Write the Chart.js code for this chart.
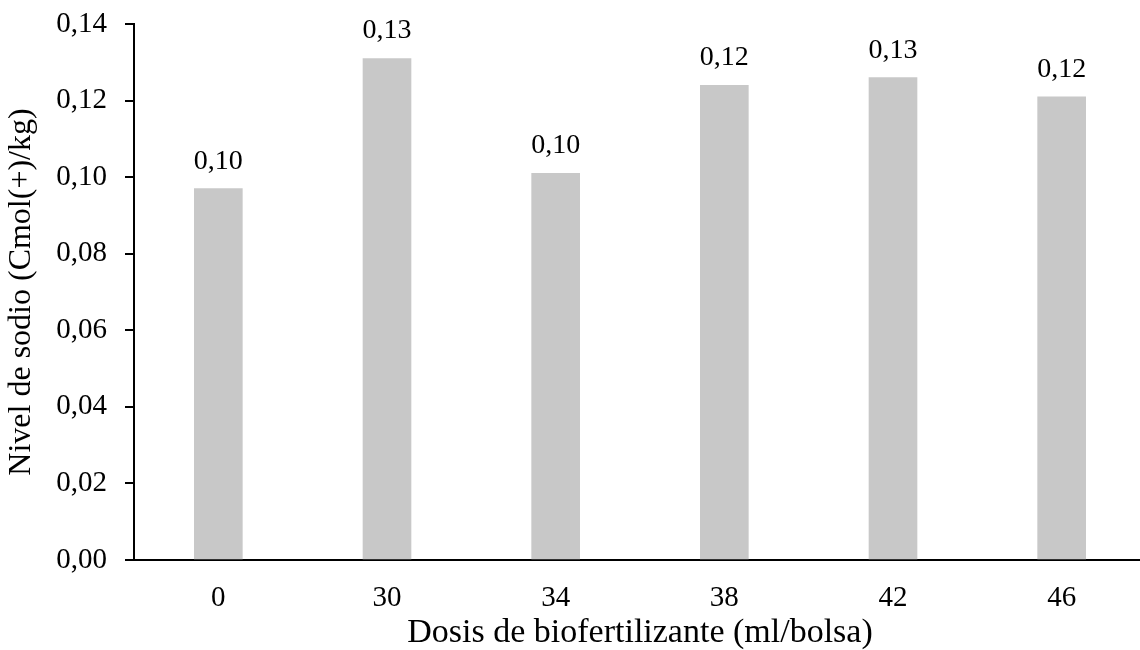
<!DOCTYPE html>
<html lang="es">
<head>
    <meta charset="UTF-8">
    <title>Nivel de sodio</title>
    <style>
        body { margin: 0; overflow: hidden; background: #fff; }
    </style>
</head>
<body>
    <div style="width: 1146px; height: 650px;">
        <canvas id="myChart"></canvas>
    </div>

    <script src="https://cdn.jsdelivr.net/npm/chart.js"></script>
    <script>
        // dosis de biofertilizante (ml/bolsa)
        let v_labels = ['0', '30', '34', '38', '42', '46'];
        // nivel de sodio (Cmol(+)/kg)
        let v_data = [0.097, 0.131, 0.101, 0.124, 0.126, 0.121];

        const ctx = document.querySelector("#myChart");
        const v_font = 'Liberation Serif';

        function f_coma(v) {
            return v.toFixed(2).replace('.', ',');
        }

        // etiquetas sobre cada barra
        const p_valores = {
            id: 'valores',
            afterDatasetsDraw(chart) {
                let c = chart.ctx;
                let meta = chart.getDatasetMeta(0);
                c.save();
                c.font = '28px "' + v_font + '"';
                c.fillStyle = '#000';
                c.textAlign = 'center';
                c.textBaseline = 'alphabetic';
                meta.data.forEach((bar, i) => {
                    c.fillText(f_coma(v_data[i]), bar.x, bar.y - 20);
                });
                c.restore();
            }
        };

        let v_chart = new Chart(ctx, {
            type: 'bar',
            data: {
                labels: v_labels,
                datasets: [{
                    data: v_data,
                    backgroundColor: '#c8c8c8',
                    barThickness: 48
                }]
            },
            options: {
                responsive: true,
                maintainAspectRatio: false,
                animation: false,
                layout: { padding: { top: 24, left: 0, right: 0, bottom: 0 } },
                plugins: {
                    legend: { display: false },
                    tooltip: { enabled: false }
                },
                scales: {
                    x: {
                        grid: { display: false, drawTicks: false },
                        border: { display: true, color: '#000', width: 2 },
                        ticks: {
                            color: '#000',
                            padding: 21,
                            font: { family: v_font, size: 29 }
                        },
                        title: {
                            display: true,
                            text: 'Dosis de biofertilizante (ml/bolsa)',
                            color: '#000',
                            padding: 0,
                            font: { family: v_font, size: 34, lineHeight: 1 }
                        },
                        afterFit: (s) => { s.height = 90; }
                    },
                    y: {
                        min: 0,
                        max: 0.14,
                        grid: { drawOnChartArea: false, color: '#000', lineWidth: 2, tickLength: 9 },
                        border: { color: '#000', width: 2 },
                        ticks: {
                            stepSize: 0.02,
                            color: '#000',
                            padding: 18,
                            font: { family: v_font, size: 29 },
                            callback: (v) => f_coma(v)
                        },
                        title: {
                            display: true,
                            text: 'Nivel de sodio (Cmol(+)/kg)',
                            color: '#000',
                            padding: 2,
                            font: { family: v_font, size: 32 }
                        },
                        afterFit: (s) => {
                            s.width = 134;
                            s.paddingTop = 0;
                            s.paddingBottom = 0;
                        }
                    }
                }
            },
            plugins: [p_valores]
        });
    </script>
</body>
</html>
